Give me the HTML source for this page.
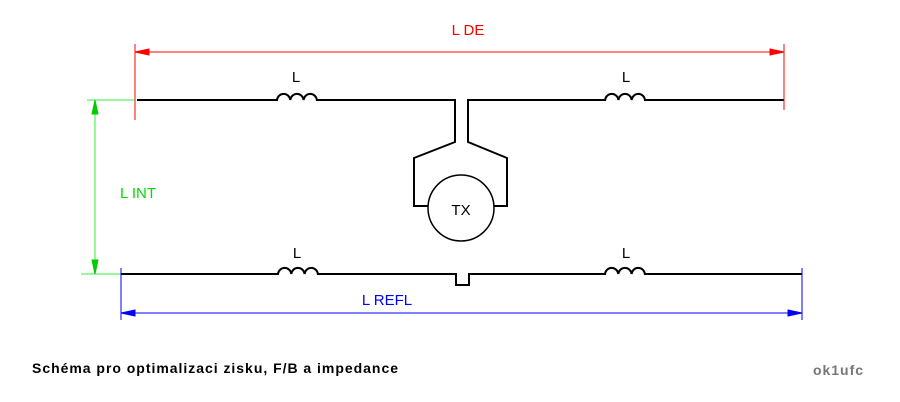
<!DOCTYPE html>
<html><head><style>body{margin:0;background:#fff}svg{display:block}</style></head><body>
<svg width="900" height="402" xmlns="http://www.w3.org/2000/svg" font-family="Liberation Sans, sans-serif">
<rect width="900" height="402" fill="#fff"/>
<g stroke="#000" stroke-width="2" fill="none">
<path d="M137 100H277 a6.7 7 0 0 1 13.3 0 a6.7 7 0 0 1 13.3 0 a6.7 7 0 0 1 13.3 0 H455 V142 L414 158 V206 H428"/>
<path d="M784 100H645 a6.7 7 0 0 0 -13.3 0 a6.7 7 0 0 0 -13.3 0 a6.7 7 0 0 0 -13.3 0 H468 V142 L507 158 V206 H494"/>
<circle cx="461" cy="208" r="33" stroke-width="1.5"/>
<path d="M121 274H278 a6.7 7 0 0 1 13.3 0 a6.7 7 0 0 1 13.3 0 a6.7 7 0 0 1 13.3 0 H456 V285 H469 V274 H605 a6.7 7 0 0 1 13.3 0 a6.7 7 0 0 1 13.3 0 a6.7 7 0 0 1 13.3 0 H802"/>
</g>
<g font-size="15" fill="#000" text-anchor="middle">
<text x="296" y="82">L</text><text x="626" y="82">L</text>
<text x="297" y="258">L</text><text x="626" y="258">L</text>
<text x="461" y="215">TX</text>
</g>
<g stroke="#f00" stroke-width="1" fill="#f00">
<path d="M135 44V120M784 44V110M135 52H784" fill="none"/>
<path d="M135 52l14-3v6zM784 52l-14-3v6z"/>
</g>
<text x="468" y="35" fill="#f00" font-size="15" text-anchor="middle">L DE</text>
<g stroke="#0c0" stroke-width="1" fill="#0c0">
<path d="M87 100H135M81 274H121M95 100V274" fill="none" stroke="#3e3"/>
<path d="M95 100l-3 14h6zM95 274l-3-14h6z"/>
</g>
<text x="138" y="198" fill="#0d0" font-size="15" text-anchor="middle">L INT</text>
<g stroke="#00f" stroke-width="1" fill="#00f">
<path d="M121 268V320M802 268V320M121 313H802" fill="none"/>
<path d="M121 313l14-3v6zM802 313l-14-3v6z"/>
</g>
<text x="387" y="305" fill="#00f" font-size="15" text-anchor="middle">L REFL</text>
<text x="32" y="373" font-size="14" font-weight="bold" fill="#000" textLength="366">Schéma pro optimalizaci zisku, F/B a impedance</text>
<text x="813" y="375" font-size="14" font-weight="bold" fill="#777" textLength="50">ok1ufc</text>
</svg>
</body></html>
